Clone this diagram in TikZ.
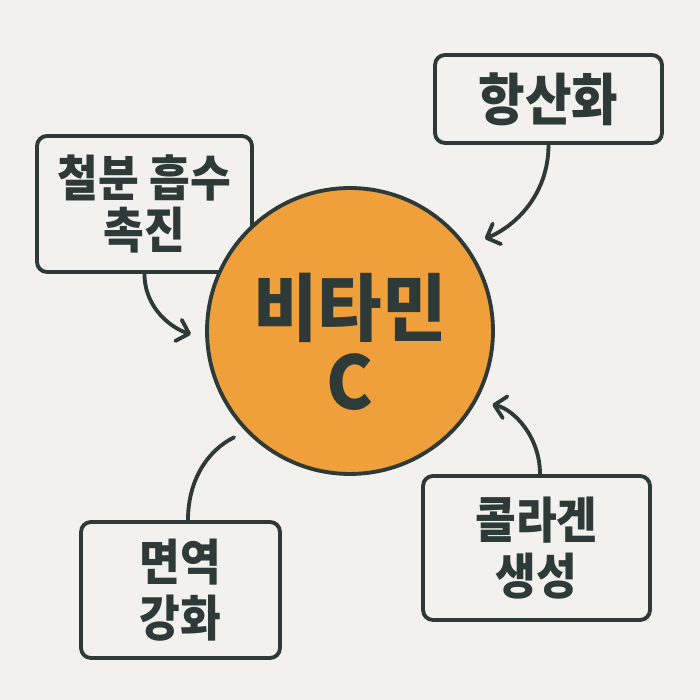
\documentclass[tikz,border=0pt]{standalone}
\usepackage{fontspec}
\newfontfamily\krfont{Noto Sans CJK KR}[FakeStretch=0.9]
\newfontfamily\krwide{Noto Sans CJK KR}[FakeStretch=0.95]
\usetikzlibrary{arrows.meta}
\definecolor{bgpaper}{HTML}{F3F1ED}
\definecolor{vitorange}{HTML}{F0A03A}
\definecolor{inkdark}{HTML}{2E3A38}
\tikzset{
  infobox/.style = {draw=inkdark, line width=2.2pt, rounded corners=0.2cm, fill=bgpaper,
    align=center, text=inkdark, inner sep=0pt, font=\krfont\bfseries\fontsize{28}{32}\selectfont},
  vitamin/.style = {circle, draw=inkdark, line width=2.2pt, fill=vitorange, minimum size=5.72cm,
    inner sep=0pt, align=center, text=inkdark, font=\krwide\bfseries\fontsize{42}{42}\selectfont},
  link/.style = {draw=inkdark, line width=2.2pt, line cap=round},
  linkarrow/.style = {link, -{Straight Barb[length=2.2mm,width=4.4mm,round]}}
}
\begin{document}
\begin{tikzpicture}[x=0.02cm, y=0.02cm]
  \fill[bgpaper] (0,0) rectangle (700,700);
  \useasboundingbox (0,0) rectangle (700,700);
  \node[infobox, minimum width=4.3cm, minimum height=2.72cm, font=\krfont\bfseries\fontsize{28}{30}\selectfont]
    (iron) at (144.5,496) {철분 흡수\\촉진};
  \node[infobox, minimum width=4.54cm, minimum height=1.76cm, font=\krfont\bfseries\fontsize{32}{32}\selectfont]
    (antiox) at (548.5,601) {항산화};
  \node[infobox, minimum width=3.98cm, minimum height=2.72cm] (immune) at (180.5,110) {면역\\강화};
  \node[infobox, minimum width=4.54cm, minimum height=2.88cm] (collagen) at (536.5,152) {콜라겐\\생성};
  \node[vitamin] (vit) at (350,369) {\rule{0pt}{48pt}비타민\\C};

  \draw[linkarrow, shorten >=0.3cm] (iron.south) to[out=-90, in=163] (vit.183);
  \draw[linkarrow, shorten >=0.38cm] (antiox.south) to[out=-90, in=22] (vit.36);
  \draw[link, shorten >=0.26cm] ([xshift=0.15cm]immune.north) to[out=90, in=206] (vit.224);
  \draw[linkarrow, shorten >=0.32cm] ([xshift=0.07cm]collagen.north) to[out=90, in=-12] (vit.331);
\end{tikzpicture}
\end{document}
